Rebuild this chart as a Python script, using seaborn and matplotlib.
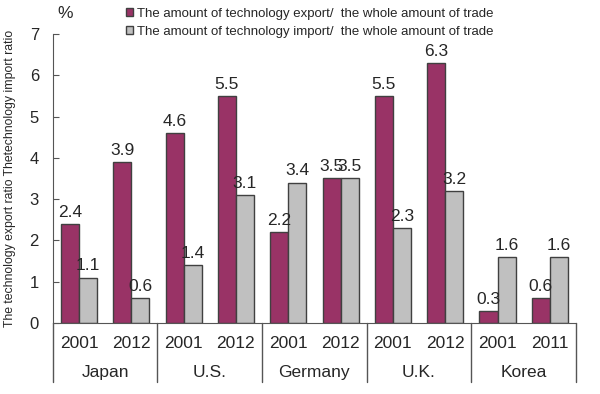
import pandas as pd
import seaborn as sns
import matplotlib.pyplot as plt

countries = ["Japan", "U.S.", "Germany", "U.K.", "Korea"]
years = ["2001", "2012", "2001", "2012", "2001", "2012", "2001", "2012", "2001", "2011"]
export_ratio = [2.4, 3.9, 4.6, 5.5, 2.2, 3.5, 5.5, 6.3, 0.3, 0.6]
import_ratio = [1.1, 0.6, 1.4, 3.1, 3.4, 3.5, 2.3, 3.2, 1.6, 1.6]
series_names = ["The amount of technology export/  the whole amount of trade",
                "The amount of technology import/  the whole amount of trade"]

sns.set_style("white")
plt.rcParams['font.family'] = ['Liberation Sans', 'DejaVu Sans']

slots = [str(i) for i in range(len(years))]
df = pd.DataFrame({
    "slot": slots * 2,
    "value": export_ratio + import_ratio,
    "series": [series_names[0]] * len(slots) + [series_names[1]] * len(slots),
})

fig = plt.figure(figsize=(6, 3.94), dpi=100)
ax = fig.add_axes([0.088, 0.180, 0.872, 0.734])
sns.barplot(data=df, x="slot", y="value", hue="series", order=slots,
            palette=["#993366", "#c0c0c0"], width=0.69, edgecolor="#404040",
            linewidth=1, saturation=1, ax=ax)

for cont in ax.containers:
    ax.bar_label(cont, fmt="%.1f", padding=3, fontsize=12.5)

ax.set_ylim(0, 7)
ax.set_xlim(-0.5, len(slots) - 0.5)
ax.set_yticks(range(8))
ax.tick_params(axis="y", labelsize=12, length=4, direction="in", pad=10,
               left=True, color="#555555")
ax.set_xticks(range(len(slots)))
ax.set_xticklabels(years, fontsize=12.5)
ax.tick_params(axis="x", length=0, pad=9)
ax.set_xlabel("")
ax.set_ylabel("The technology export ratio Thetechnology import ratio", fontsize=8.8)
ax.yaxis.set_label_coords(-0.07, 0.5)
for s in ["top", "right"]:
    ax.spines[s].set_visible(False)
ax.spines["left"].set_color("#555555")
ax.spines["bottom"].set_color("#555555")

trans = ax.get_xaxis_transform()
for i, c in enumerate(countries):
    ax.text(2 * i + 0.5, -0.172, c, transform=trans, ha="center", va="center", fontsize=12.5)
for b in range(len(countries) + 1):
    ax.plot([2 * b - 0.5, 2 * b - 0.5], [0, -0.205], transform=trans,
            color="#555555", lw=1, clip_on=False)

ax.legend_.remove()
handles = [plt.Rectangle((0, 0), 1, 1, facecolor=col, edgecolor="#404040")
           for col in ["#993366", "#c0c0c0"]]
fig.legend(handles, series_names, loc="upper left", bbox_to_anchor=(0.21, 0.98),
           frameon=False, fontsize=9.5, handlelength=0.55, handleheight=0.55,
           handletextpad=0.25, labelspacing=0.45, borderaxespad=0, borderpad=0)
fig.text(0.095, 0.965, "%", fontsize=12.5, ha="left", va="center")

fig.savefig("out.png", dpi=100)
